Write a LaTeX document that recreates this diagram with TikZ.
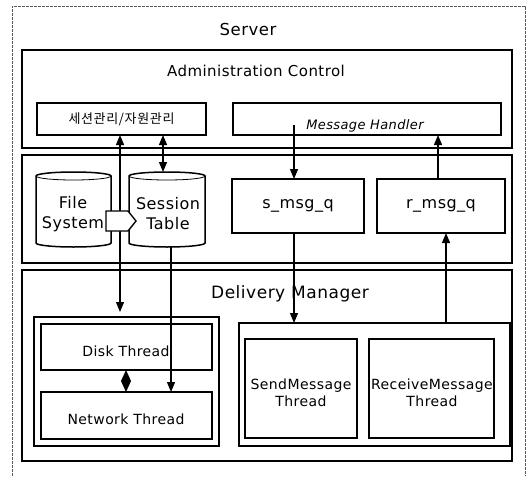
\documentclass[tikz,border=0pt]{standalone}
\usepackage{fontspec}
\setsansfont{DejaVu Sans}[LetterSpace=3]
\newfontfamily\krfont{Noto Sans CJK KR}[LetterSpace=5]
\usetikzlibrary{arrows.meta,calc}

\begin{document}
\begin{tikzpicture}[x=1pt,y=-1pt,font=\sffamily,
  frame/.style={draw,line width=1.7pt,rectangle,inner sep=0pt,outer sep=0pt},
  box/.style={draw,line width=1.5pt,rectangle,inner sep=0pt,outer sep=0pt,align=center},
  slot/.style={rectangle,inner sep=0pt,outer sep=0pt,align=center},
  drum/.style={line width=1.5pt,fill=white},
  title/.style={inner sep=0pt,align=center},
  link/.style={line width=1.2pt,-{Triangle[length=10pt,width=8pt]}},
  bilink/.style={line width=1.2pt,{Triangle[length=10pt,width=8pt]}-{Triangle[length=10pt,width=8pt]}},
  f14/.style={font=\sffamily\fontsize{14}{17}\selectfont},
  f16/.style={font=\sffamily\fontsize{16}{20}\selectfont},
]
\useasboundingbox (0,0) rectangle (529,476);

% dashed outline of the server
\draw[gray!70!black,line width=0.6pt,dash pattern=on 3pt off 1pt]
  (12,476) -- (12,6) -- (525,6) -- (525,476);
\node[title,font=\sffamily\fontsize{16.5}{20}\selectfont] (server) at (248,29) {Server};

% three horizontal layers
\node[frame,minimum width=490pt,minimum height=98pt] (admin) at (267,99) {};
\node[frame,minimum width=490pt,minimum height=108pt] (store) at (267,209) {};
\node[frame,minimum width=490pt,minimum height=191pt] (deliv) at (267,365.5) {};

\node[title,font=\sffamily\fontsize{15}{18}\selectfont] (admintitle) at (256,71) {Administration Control};
\node[title,font=\sffamily\fontsize{17}{20}\selectfont] (delivtitle) at (290,294) {Delivery Manager};

% administration control
\node[box,minimum width=169pt,minimum height=32pt,font=\krfont\fontsize{13}{15}\selectfont] (sm) at (121.5,119) {세션관리/자원관리};
\node[box,minimum width=268pt,minimum height=32pt] (mh) at (367,119) {};
\node[title,font=\sffamily\itshape\fontsize{13}{16}\selectfont] (mhtext) at (365,125.5) {Message Handler};

% storage and queues
\node[slot,minimum width=75pt,minimum height=75pt] (fs) at (73.5,209.5) {};
\node[slot,minimum width=76pt,minimum height=75pt] (st) at (167,209.5) {};
\foreach \n/\r in {fs/37.5pt,st/38pt}{
  \draw[drum] ([yshift=-4pt]\n.north west) -- ([yshift=4pt]\n.south west)
    arc[start angle=180,end angle=360,x radius=\r,y radius=4pt]
    -- ([yshift=-4pt]\n.north east)
    arc[start angle=0,end angle=180,x radius=\r,y radius=4pt] -- cycle;
  \draw[line width=0.8pt] ([yshift=-4pt]\n.north west)
    arc[start angle=180,end angle=360,x radius=\r,y radius=4pt];
}
\node[title,f16] (fstext) at (73,214) {File\\System};
\node[title,f16] (sttext) at (168,214) {Session\\Table};

\node[box,f16,minimum width=132pt,minimum height=54pt] (sq) at (298,206) {s\_msg\_q};
\node[box,f16,minimum width=128pt,minimum height=54pt] (rq) at (441,206) {r\_msg\_q};

% delivery threads
\node[box,minimum width=185pt,minimum height=129pt] (lg) at (126.5,381.5) {};
\node[box,minimum width=171pt,minimum height=46pt] (dt) at (126.5,347) {};
\node[title,f14] (dttext) at (126,351) {Disk Thread};
\node[box,minimum width=171pt,minimum height=47pt] (nt) at (126.5,415.5) {};
\node[title,f14] (nttext) at (126,419) {Network Thread};

\node[box,minimum width=271pt,minimum height=123pt] (rg) at (374.5,384.5) {};
\node[box,minimum width=112pt,minimum height=99pt] (smt) at (301,388.5) {};
\node[title,f14] (smttext) at (301,393) {SendMessage\\Thread};
\node[box,minimum width=125pt,minimum height=99pt] (rmt) at (431.5,388.5) {};
\node[title,f14] (rmttext) at (432,393) {ReceiveMessage\\Thread};

% columns of the connectors
\coordinate (c1) at (120,0);
\coordinate (c2) at (163,0);
\coordinate (c3) at (171,0);
\coordinate (c4) at (294,0);
\coordinate (c5) at (438,0);
\coordinate (c6) at (446,0);
\coordinate (cd) at (126,0);
\coordinate (mhsrc) at (294,125);

% connectors
\draw[bilink] (sm.south -| c1) -- ([yshift=5pt]lg.north -| c1);
\draw[bilink] (sm.south -| c2) -- (st.north -| c2);
\draw[link] (st.south -| c3) -- (nt.north -| c3);
\draw[link] (mhsrc) -- (sq.north -| c4);
\draw[link] (sq.south -| c4) -- (rg.north -| c4);
\draw[link] (rq.north -| c5) -- (mh.south -| c5);
\draw[link] (rg.north -| c6) -- (rq.south -| c6);

% transfer from the file system into the session table
\draw[line width=1.4pt,fill=white] (106,211) -- (128,211) -- (136,221) -- (128,231) -- (106,231) -- cycle;

% link between disk and network thread
\fill (dt.south -| cd) -- ++(5,11) -- (nt.north -| cd) -- ++(-5,-11) -- cycle;
\end{tikzpicture}
\end{document}
